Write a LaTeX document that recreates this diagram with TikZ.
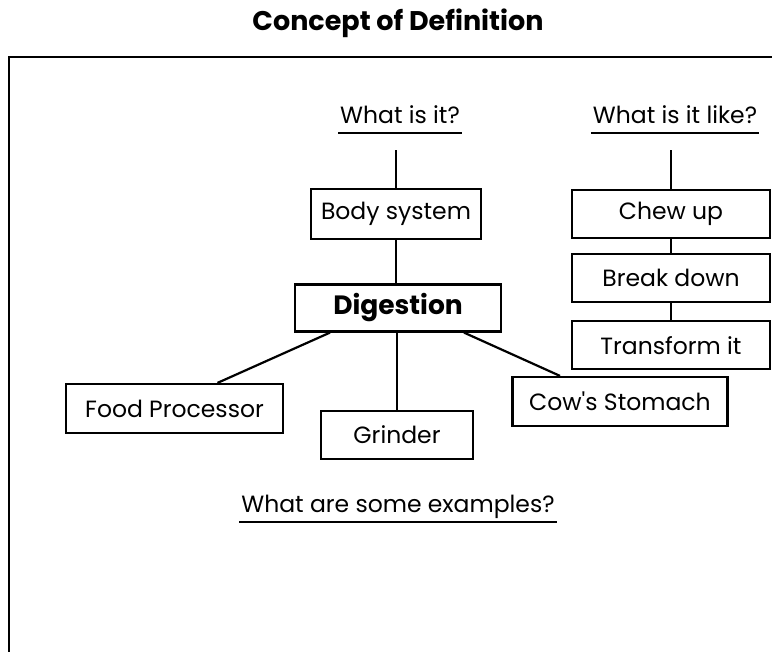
\documentclass[tikz,border=0pt]{standalone}
\usepackage{fontspec}
\setmainfont{Poppins}[Ligatures=TeXOff]
\usetikzlibrary{positioning}
\begin{document}
\begin{tikzpicture}[x=1pt, y=-1pt, line width=2.2pt,
        box/.style={draw, minimum height=48pt, inner sep=0pt, font=\fontsize{23.5}{27}\selectfont},
        question/.style={anchor=south, inner xsep=1pt, inner ysep=8pt, text depth=0pt, font=\fontsize{23.5}{27}\selectfont},
        link/.style={line width=2.2pt}]
        \useasboundingbox (0,0) rectangle (772,652);

        % Title and frame
        \node[anchor=base, font=\fontsize{27}{31}\selectfont\bfseries] (title) at (398,31) {Concept of Definition};
        \draw[link] (9,652) -- (9,57) -- (772,57);

        % Questions
        \node[question] (what) at (400,133) {What is it?};
        \node[question] (like) at (675,133) {What is it like?};
        \node[question] (examples) at (398,522) {What are some examples?};
        \draw[link] (what.south west) -- (what.south east);
        \draw[link] (like.south west) -- (like.south east);
        \draw[link] (examples.south west) -- (examples.south east);

        % Definition
        \node[box, minimum width=170pt, minimum height=50pt] (body) at (396,214) {Body system};
        \node[box, minimum width=206pt, minimum height=47pt, font=\fontsize{26.5}{30}\selectfont\bfseries] (digestion) at (398,308) {Digestion};
        \draw[link, shorten >=17pt] (body.north) -- (body.north |- what.south);
        \draw[link] (body.south) -- (body.south |- digestion.north);

        % What is it like
        \node[box, minimum width=198pt] (chew) at (671,214) {Chew up};
        \node[box, minimum width=198pt, below=14pt of chew] (breakdown) {Break down};
        \node[box, minimum width=198pt, below=17pt of breakdown] (transform) {Transform it};
        \draw[link, shorten >=17pt] (chew.north) -- (chew.north |- like.south);
        \draw[link] (chew) -- (breakdown);
        \draw[link] (breakdown) -- (transform);

        % Examples
        \node[box, minimum width=217pt, minimum height=49pt] (food) at (174.5,408.5) {Food Processor};
        \node[box, minimum width=152pt] (grinder) at (397,435) {Grinder};
        \node[box, minimum width=215pt, minimum height=49pt] (cow) at (620,401.5) {Cow's Stomach};
        \draw[link] ([xshift=-68pt]digestion.south) -- ([xshift=43pt]food.north);
        \draw[link] (grinder.north |- digestion.south) -- (grinder.north);
        \draw[link] ([xshift=66pt]digestion.south) -- ([xshift=-60pt]cow.north);
    \end{tikzpicture}
\end{document}
